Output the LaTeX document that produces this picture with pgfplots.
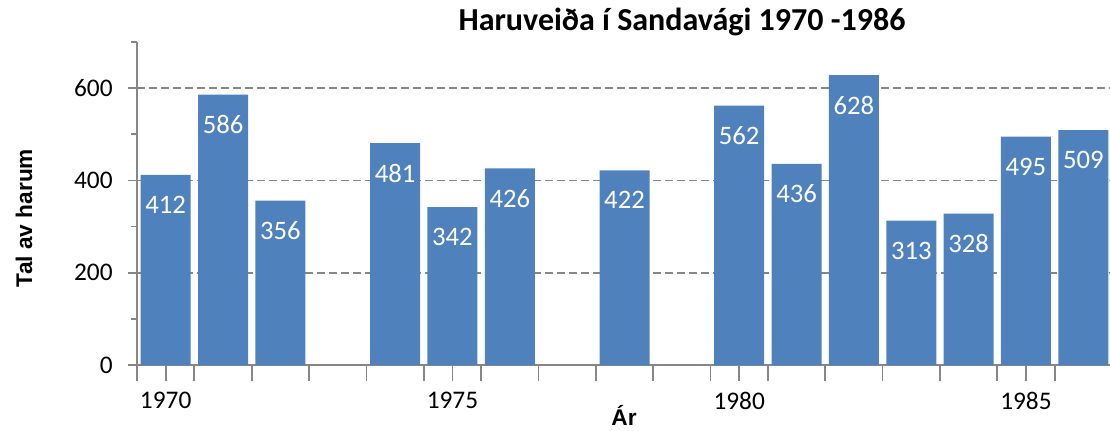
\documentclass[border=0pt]{standalone}
\usepackage{fontspec}
\setmainfont{Carlito}
\newfontfamily\arialfont{Liberation Sans}
\usepackage{pgfplots}
\pgfplotsset{compat=1.18}
\definecolor{barblue}{HTML}{4F81BD}
\definecolor{axgray}{HTML}{868686}
\begin{document}
\begin{tikzpicture}
\path[use as bounding box] (0pt,0pt) rectangle (832.5pt,322.5pt);
\begin{axis}[
  at={(102.75pt,48.75pt)}, anchor=south west,
  scale only axis, width=731.25pt, height=242.25pt,
  xmin=1969.5, xmax=1986.5, ymin=0, ymax=700,
  /pgf/number format/assume math mode=true,
  axis x line=bottom, axis y line=left,
  axis line style={-, axgray, line width=1.5pt},
  xtick={1969.5,1970.5,...,1986.5}, xticklabels={},
  xtick align=center,
  xtick style={axgray, line width=1.3pt, /pgfplots/major tick length=12pt},
  extra x ticks={1970,1975,1980,1985},
  extra x tick labels={1970,1975,1980,1985},
  extra x tick style={/pgfplots/major tick length=0pt, grid=none,
     tick label style={yshift=-17pt}},
  ytick={0,200,400,600}, minor ytick={100,300,500,700},
  ytick align=outside,
  ytick style={axgray, line width=1.3pt},
  yticklabel style={xshift=-8pt},
  major tick length=6.75pt, minor tick length=4.5pt,
  ymajorgrids, grid style={axgray, line width=1.4pt, dash pattern=on 6pt off 3pt},
  tick label style={font=\fontsize{19}{19}\selectfont, black},
  ybar, bar width=37.5pt,
  nodes near coords,
  nodes near coords style={white, font=\fontsize{20}{20}\selectfont, anchor=center, yshift=-22.5pt},
]
\addplot[fill=barblue, draw=none] coordinates {
(1970,412) (1971,586) (1972,356) (1974,481) (1975,342) (1976,426)
(1978,422) (1980,562) (1981,436) (1982,628) (1983,313) (1984,328)
(1985,495) (1986,509)};
\end{axis}
\node[font=\fontsize{24}{24}\selectfont\bfseries] at (511.5pt,306pt) {Haruveiða í Sandavági 1970 -1986};
\node[font=\arialfont\fontsize{17}{17}\selectfont\bfseries, rotate=90] at (18pt,159pt) {Tal av harum};
\node[font=\arialfont\fontsize{17}{17}\selectfont\bfseries, inner sep=0pt] at (468pt,11pt) {Ár};
\end{tikzpicture}
\end{document}
